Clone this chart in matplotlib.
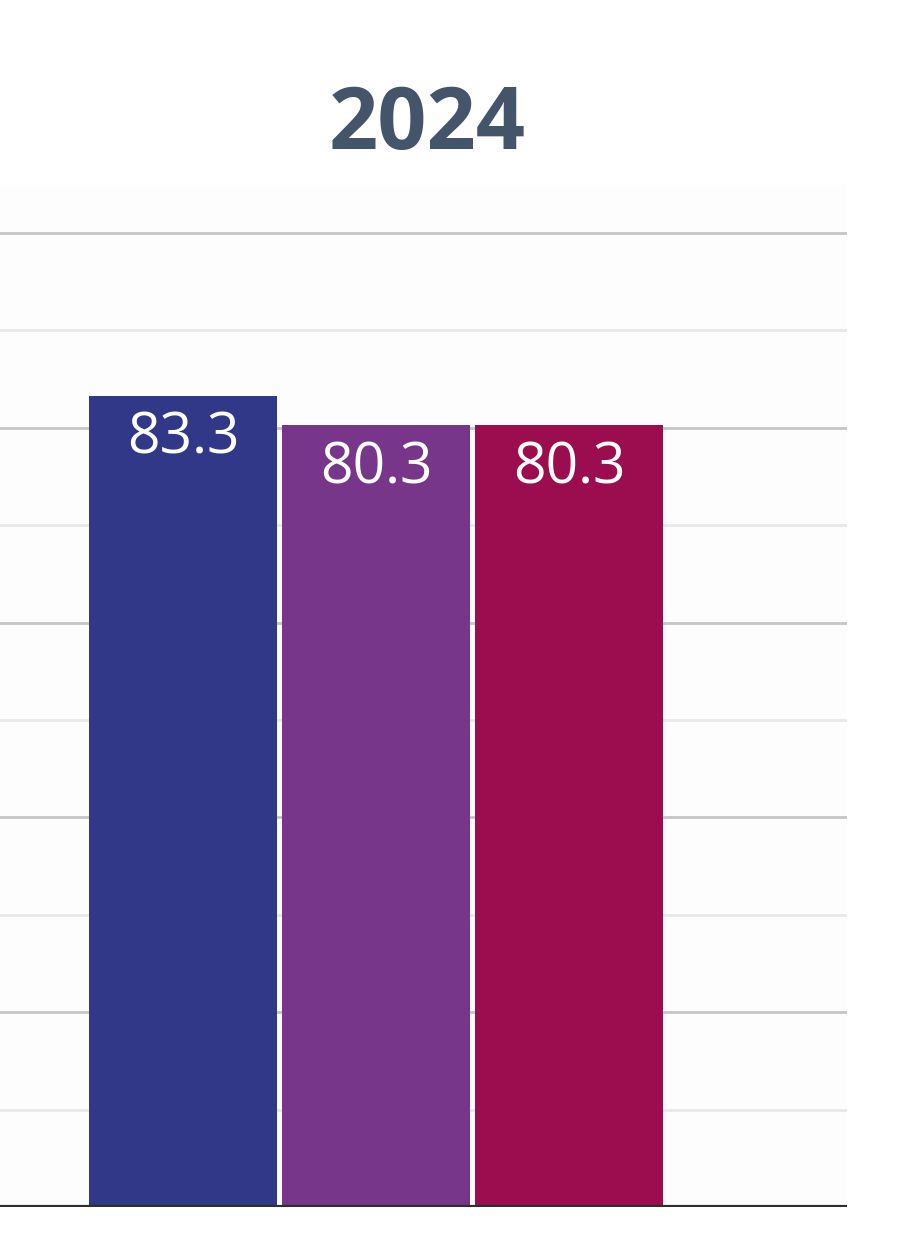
import matplotlib
matplotlib.use("Agg")
import matplotlib.pyplot as plt
import numpy as np

title = "2024"
categories = ["A", "B", "C"]
values = [83.3, 80.3, 80.3]
colors = ["#303887", "#77368a", "#9b0d4f"]
major_ticks = [20, 40, 60, 80, 100]
minor_ticks = [10, 30, 50, 70, 90]

fig = plt.figure(figsize=(9, 12.55), dpi=100)
fig.patch.set_facecolor("white")
ax = fig.add_axes([0.0, 48 / 1255, 847 / 900, 1022 / 1255])
ax.set_facecolor("#fdfdfd")

x = np.arange(len(categories))
bars = ax.bar(x, values, width=0.979, color=colors, linewidth=0, zorder=3)

ax.set_xlim(-183 / 193, (847 - 183) / 193)
ax.set_ylim(0, 1022 / 9.74)

for y in major_ticks:
    ax.axhline(y, color="#c6c6c6", linewidth=2.0, zorder=1)
for y in minor_ticks:
    ax.axhline(y, color="#e8e8e8", linewidth=2.0, zorder=1)
ax.axhline(0, color="#2e2e2e", linewidth=3.0, zorder=4)

for b, v in zip(bars, values):
    ax.text(b.get_x() + b.get_width() / 2, v - 4.5, f"{v:.1f}",
            ha="center", va="center", color="white", fontsize=41,
            family=["Open Sans", "DejaVu Sans"], zorder=5)

for s in ax.spines.values():
    s.set_visible(False)
ax.set_xticks([])
ax.set_yticks([])

fig.text(427 / 900, 1 - 127 / 1255, title, ha="center", va="center",
         fontsize=62, fontweight="bold", color="#44546a",
         family=["Open Sans", "DejaVu Sans"])

fig.savefig("out.png", dpi=100, facecolor="white")
